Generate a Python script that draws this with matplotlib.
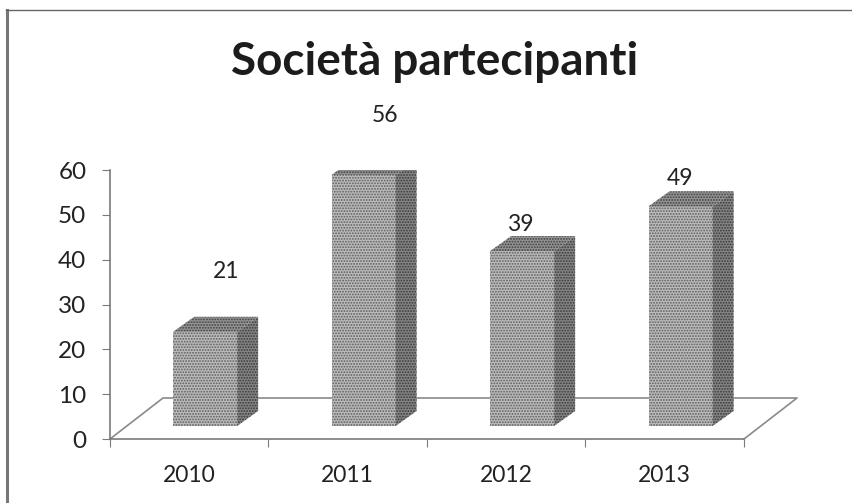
import numpy as np
import matplotlib
matplotlib.use('Agg')
import matplotlib.pyplot as plt

# valori
anni = ['2010', '2011', '2012', '2013']
societa = [21, 56, 39, 49]
tick_y = [0, 10, 20, 30, 40, 50, 60]

W, H = 853, 503
plt.rcParams['font.family'] = ['Lato', 'DejaVu Sans']
plt.rcParams['hatch.linewidth'] = 0.9

fig = plt.figure(figsize=(W / 100, H / 100), dpi=100)
ax = fig.add_axes([110 / W, 1 - 439 / H, 634 / W, 269 / H])
ax.set_xlim(-0.5, 3.5)
ax.set_ylim(0, 60)
ax.patch.set_alpha(0)

# prospettiva finta, in unita' degli assi
base = 2.9
shift = 0.1
larg = 0.404
dx = 0.1325
dy = 3.35
floor_dx = 53 / 158.5
floor_dy = 41 / 4.483

x = np.arange(len(anni))

# pavimento
ax.plot([-0.5, -0.5 + floor_dx, 3.5 + floor_dx, 3.5], [0, floor_dy, floor_dy, 0],
        color='#8a8a8a', lw=1.2, clip_on=False, zorder=1)

for xi, v in zip(x, societa):
    x0 = xi + shift - larg / 2
    x1 = x0 + larg
    top = base + v
    ax.bar(x0 + larg / 2, v, larg, bottom=base, facecolor='#bcbcbc', edgecolor='#5c5c5c',
           hatch='......', lw=0, zorder=3)
    ax.fill([x1, x1 + dx, x1 + dx, x1], [base, base + dy, top + dy, top],
            facecolor='#858585', edgecolor='#383838', hatch='......', lw=0, zorder=3)
    ax.fill([x0, x0 + dx, x1 + dx, x1], [top, top + dy, top + dy, top],
            facecolor='#949494', edgecolor='#404040', hatch='......', lw=0, zorder=3)

# etichette dei dati, non tutte sopra la barra
label_pos = [(0.23, 37.4), (1.235, 72.2), (2.09, 47.8), (3.095, 58.1)]
for (lx, ly), v in zip(label_pos, societa):
    ax.text(lx, ly, str(v), ha='center', va='center', fontsize=16.5, color='#222222', clip_on=False)

for s in ['top', 'right']:
    ax.spines[s].set_visible(False)
for s in ['left', 'bottom']:
    ax.spines[s].set_color('#7a7a7a')
    ax.spines[s].set_linewidth(1.2)
ax.set_yticks(tick_y)
ax.set_xticks(np.arange(-0.5, 4, 1))
ax.set_xticklabels([])
ax.set_xticks(x, minor=True)
ax.set_xticklabels(anni, minor=True, fontsize=16.5, color='#222222')
ax.tick_params(axis='x', which='minor', length=0, pad=18.5)
ax.tick_params(axis='x', which='major', length=6, color='#7a7a7a')
ax.tick_params(axis='y', length=6, color='#7a7a7a', labelsize=17.5, labelcolor='#222222', pad=11)

fig.text(435 / W, 1 - 62 / H, 'Società partecipanti', ha='center', va='center',
         fontsize=33, fontweight='bold', color='#1c1c1c')

# cornice del riquadro
fig.add_artist(plt.Line2D([7 / W, 7 / W], [0, 1 - 10 / H], color='#777777', lw=2.2))
fig.add_artist(plt.Line2D([6 / W, 1], [1 - 10 / H, 1 - 10 / H], color='#666666', lw=1.0))

fig.savefig('out.png', dpi=100)
